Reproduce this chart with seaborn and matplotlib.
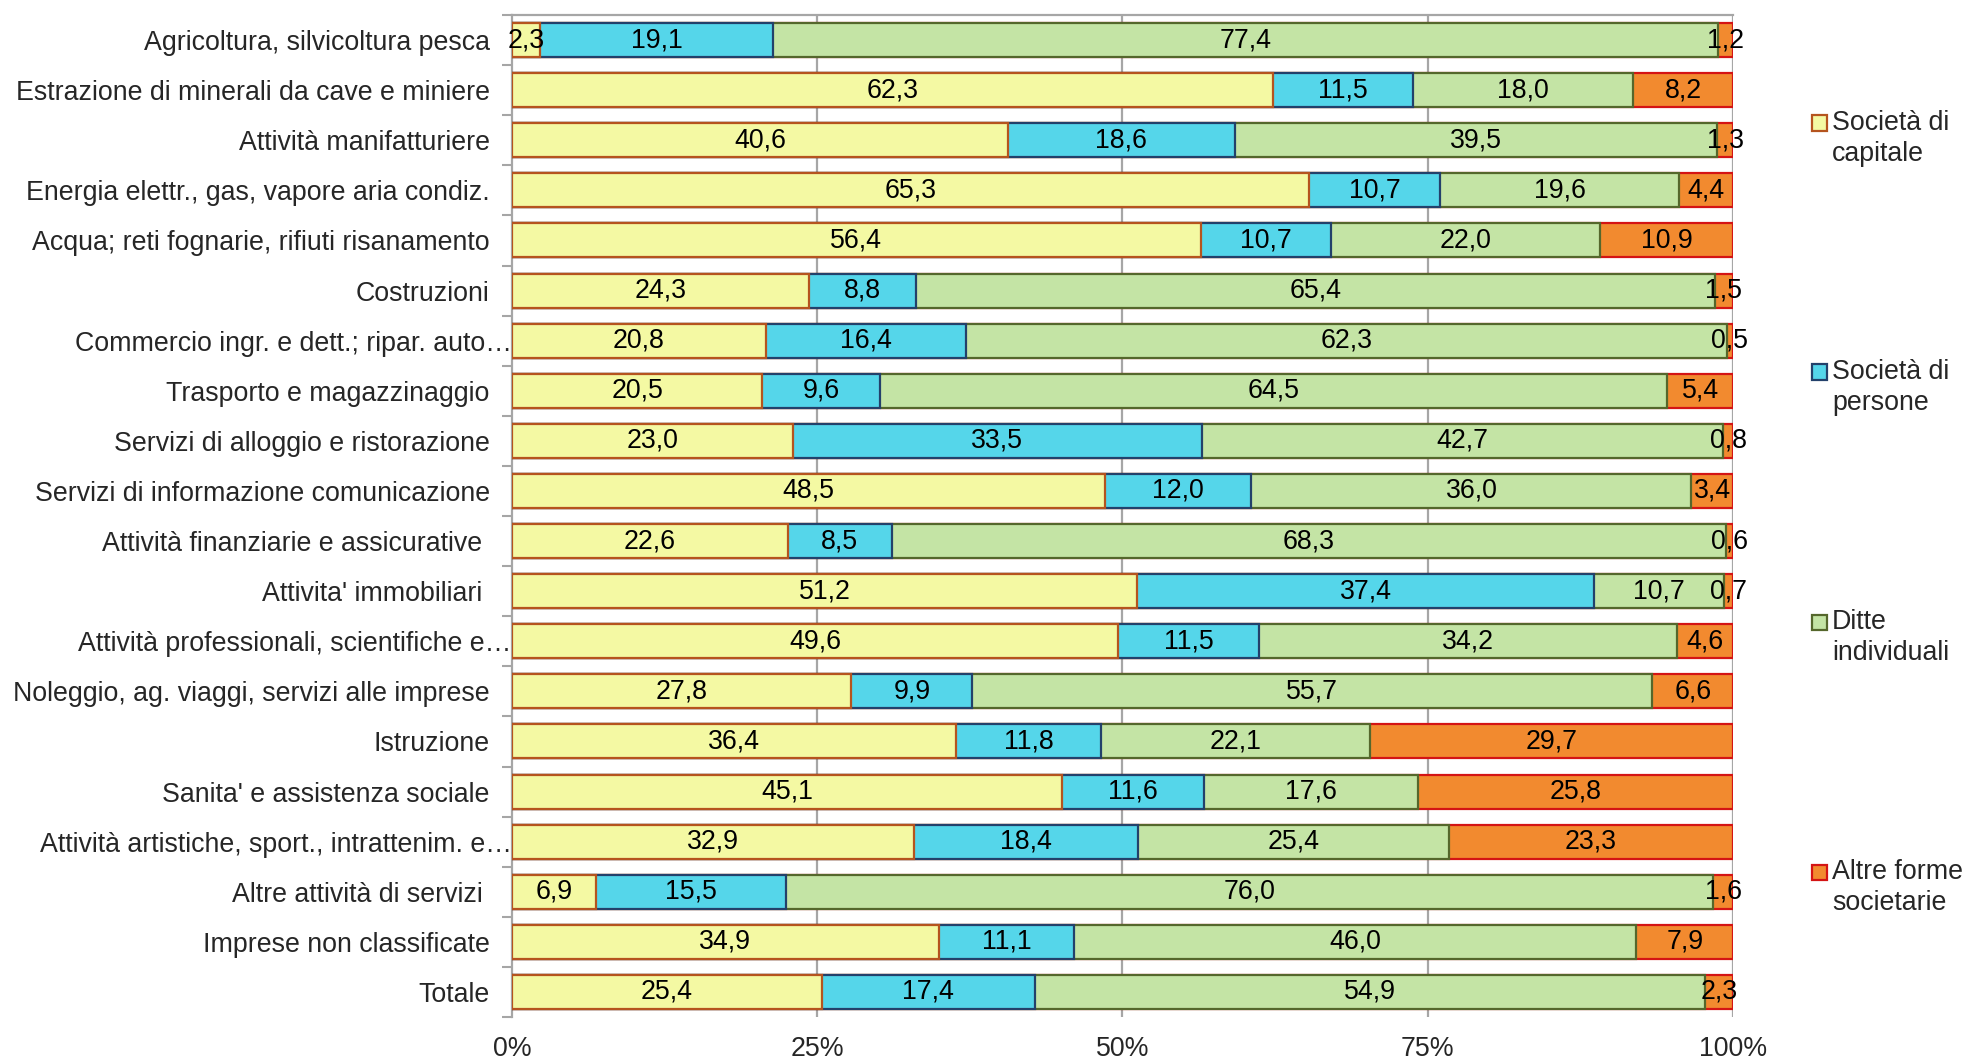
import matplotlib
matplotlib.use("Agg")
import matplotlib.pyplot as plt
from matplotlib.patches import Rectangle
from matplotlib.ticker import FixedLocator
import seaborn as sns
import numpy as np
import pandas as pd

categories = [
    "Agricoltura, silvicoltura pesca",
    "Estrazione di minerali da cave e miniere",
    "Attività manifatturiere",
    "Energia elettr., gas, vapore aria condiz.",
    "Acqua; reti fognarie, rifiuti risanamento",
    "Costruzioni",
    "Commercio ingr. e dett.; ripar. auto…",
    "Trasporto e magazzinaggio",
    "Servizi di alloggio e ristorazione",
    "Servizi di informazione comunicazione",
    "Attività finanziarie e assicurative ",
    "Attivita' immobiliari ",
    "Attività professionali, scientifiche e…",
    "Noleggio, ag. viaggi, servizi alle imprese",
    "Istruzione",
    "Sanita' e assistenza sociale",
    "Attività artistiche, sport., intrattenim. e…",
    "Altre attività di servizi ",
    "Imprese non classificate",
    "Totale",
]
soc_capitale = [2.3, 62.3, 40.6, 65.3, 56.4, 24.3, 20.8, 20.5, 23.0, 48.5, 22.6, 51.2, 49.6, 27.8, 36.4, 45.1, 32.9, 6.9, 34.9, 25.4]
soc_persone = [19.1, 11.5, 18.6, 10.7, 10.7, 8.8, 16.4, 9.6, 33.5, 12.0, 8.5, 37.4, 11.5, 9.9, 11.8, 11.6, 18.4, 15.5, 11.1, 17.4]
ditte_indiv = [77.4, 18.0, 39.5, 19.6, 22.0, 65.4, 62.3, 64.5, 42.7, 36.0, 68.3, 10.7, 34.2, 55.7, 22.1, 17.6, 25.4, 76.0, 46.0, 54.9]
altre_forme = [1.2, 8.2, 1.3, 4.4, 10.9, 1.5, 0.5, 5.4, 0.8, 3.4, 0.6, 0.7, 4.6, 6.6, 29.7, 25.8, 23.3, 1.6, 7.9, 2.3]
series_names = ["Società di\ncapitale", "Società di\npersone", "Ditte\nindividuali", "Altre forme\nsocietarie"]
x_ticks = [0, 25, 50, 75, 100]
x_ticklabels = ["0%", "25%", "50%", "75%", "100%"]

face_colors = ["#F4F9A3", "#55D6EA", "#C4E4A5", "#F28A2F"]
edge_colors = ["#B5541E", "#23416B", "#55672C", "#D41414"]

sns.set_style("white")
plt.rcParams["font.family"] = ["Liberation Sans", "DejaVu Sans"]
FS = 19.3

vals = np.array([soc_capitale, soc_persone, ditte_indiv, altre_forme])
totals = vals.sum(axis=0)
pct = vals / totals * 100.0
cum = np.cumsum(pct, axis=0)

W, H = 1981, 1061
AX_W = 1733 - 512
fig = plt.figure(figsize=(19.81, 10.61), dpi=100)
ax = fig.add_axes([512 / W, 1 - 1017 / H, AX_W / W, (1017 - 15) / H])

for k in range(3, -1, -1):
    df = pd.DataFrame({"cat": categories, "val": cum[k]})
    sns.barplot(data=df, x="val", y="cat", orient="h", color=face_colors[k],
                saturation=1, width=0.68, edgecolor=edge_colors[k], linewidth=1.6,
                ax=ax, zorder=3, order=categories)

# value labels
for k in range(4):
    start = cum[k] - pct[k]
    for i, v in enumerate(vals[k]):
        xc = start[i] + pct[k][i] / 2
        ax.text(xc, i, f"{v:.1f}".replace(".", ","), ha="center", va="center",
                fontsize=FS, color="black", zorder=5)

ax.set_xlim(0, 100)
ax.set_ylim(19.5, -0.5)
ax.set_xlabel("")
ax.set_ylabel("")
ax.xaxis.set_major_locator(FixedLocator(x_ticks))
ax.set_xticklabels(x_ticklabels, fontsize=FS)
ax.tick_params(axis="x", length=0, pad=13.5)
ax.set_yticks(range(len(categories)))
ax.set_yticklabels(categories, fontsize=FS)
ax.yaxis.set_minor_locator(FixedLocator(np.arange(-0.5, len(categories), 1.0)))
ax.tick_params(axis="y", which="major", length=0, pad=16)
ax.tick_params(axis="y", which="minor", length=7, width=1.5, color="#A6A6A6", left=True)

# truncated labels overflow up to the axis line, as in the original
for lab in ax.get_yticklabels():
    if lab.get_text().endswith("…"):
        lab.set_x(22 / AX_W)

ax.grid(False)
for xv in x_ticks[1:]:
    ax.axvline(xv, color="#A6A6A6", lw=1.6, zorder=1)
for side in ["right", "bottom"]:
    ax.spines[side].set_visible(False)
for side in ["left", "top"]:
    ax.spines[side].set_visible(True)
    ax.spines[side].set_color("#A6A6A6")
    ax.spines[side].set_linewidth(1.6)

# legend
first_line_y = [123, 372, 622, 872]
for k in range(4):
    yc = first_line_y[k]
    fig.patches.append(Rectangle((1812 / W, 1 - (yc + 7.5) / H), 15 / W, 15 / H,
                                 transform=fig.transFigure, facecolor=face_colors[k],
                                 edgecolor=edge_colors[k], linewidth=1.6))
    for j, line in enumerate(series_names[k].split("\n")):
        fig.text(1832 / W, 1 - (yc + j * 31) / H, line, fontsize=FS, va="center", ha="left")

fig.savefig("out.png", dpi=100)
